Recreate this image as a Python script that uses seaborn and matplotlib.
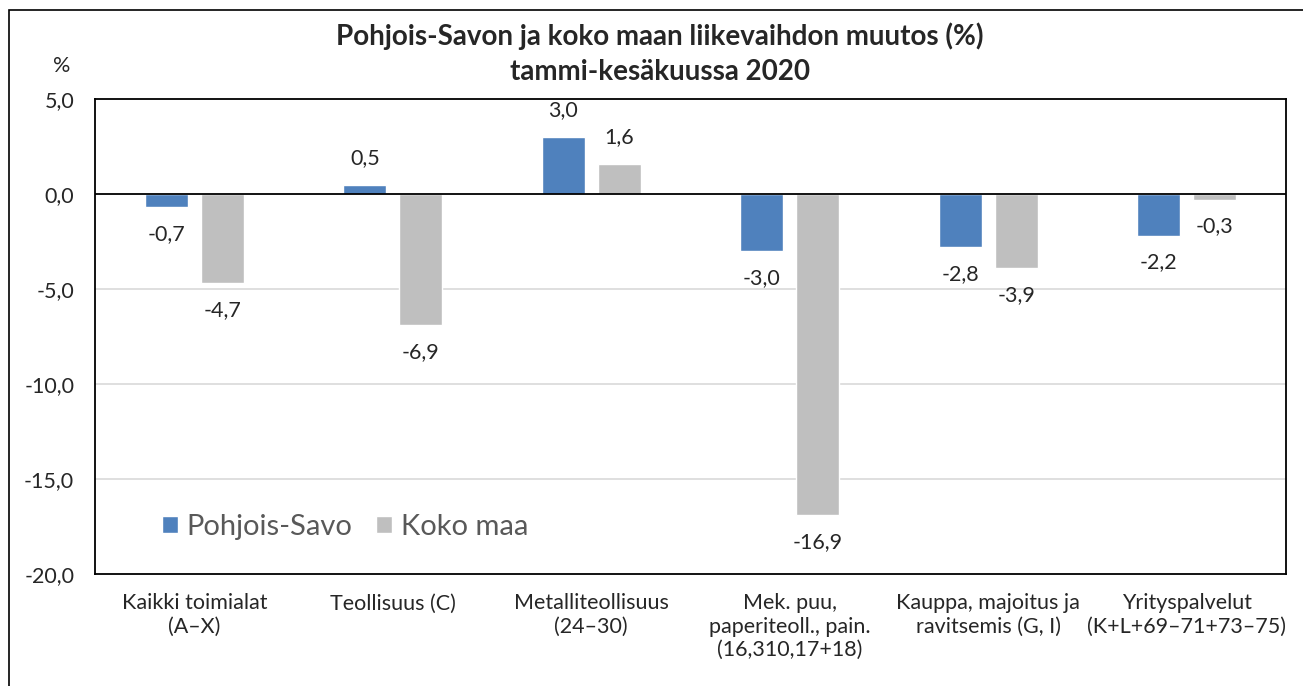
import seaborn as sns
import pandas as pd
import matplotlib.pyplot as plt
from matplotlib.patches import Rectangle

# data
categories = [
    "Kaikki toimialat\n(A–X)",
    "Teollisuus (C)",
    "Metalliteollisuus\n(24–30)",
    "Mek. puu,\npaperiteoll., pain.\n(16,310,17+18)",
    "Kauppa, majoitus ja\nravitsemis (G, I)",
    "Yrityspalvelut\n(K+L+69–71+73–75)",
]
series = ["Pohjois-Savo", "Koko maa"]
pohjois_savo = [-0.7, 0.5, 3.0, -3.0, -2.8, -2.2]
koko_maa = [-4.7, -6.9, 1.6, -16.9, -3.9, -0.3]
yticks = [5, 0, -5, -10, -15, -20]

colors = {"Pohjois-Savo": "#4F81BD", "Koko maa": "#BFBFBF"}

df = pd.DataFrame({
    "toimiala": categories * 2,
    "sarja": [series[0]] * len(categories) + [series[1]] * len(categories),
    "muutos": pohjois_savo + koko_maa,
})

sns.set_style("white")
plt.rcParams['font.family'] = ['Lato', 'DejaVu Sans']

fig = plt.figure(figsize=(13.03, 6.86), dpi=100)
ax = fig.add_axes([95/1303, 1-574/686, (1286-95)/1303, (574-99)/686])

sns.barplot(data=df, x="toimiala", y="muutos", hue="sarja", hue_order=series,
            palette=colors, width=0.564, gap=0.23, saturation=1,
            ax=ax, errorbar=None)

ax.set_ylim(-20, 5)
ax.set_xlim(-0.5, len(categories) - 0.5)
ax.set_yticks(yticks)
ax.set_yticklabels([f"{v:.1f}".replace(".", ",") for v in yticks], fontsize=15.5)
ax.tick_params(axis="y", length=0, pad=15)
ax.tick_params(axis="x", length=0, pad=14, labelsize=15.5)
ax.set_xlabel("")
ax.set_ylabel("")

for y in [-5, -10, -15]:
    ax.axhline(y, color="#D9D9D9", lw=1.2, zorder=0)
ax.axhline(0, color="black", lw=1.3, zorder=3)

for s in ax.spines.values():
    s.set_color("black")
    s.set_linewidth(1.3)

# value labels
for cont, vals in zip(ax.containers, [pohjois_savo, koko_maa]):
    ax.bar_label(cont, labels=[f"{v:.1f}".replace(".", ",") for v in vals],
                 padding=12, fontsize=15.5)

ax.legend(loc="center", bbox_to_anchor=(0.21, 0.099), ncol=2, frameon=False,
          fontsize=21, handlelength=0.55, handleheight=0.55, handletextpad=0.3,
          columnspacing=0.8, labelcolor="#595959")

fig.text(0.5065, 1-54/686, "Pohjois-Savon ja koko maan liikevaihdon muutos (%)\ntammi-kesäkuussa 2020",
         ha="center", va="center", fontsize=20, fontweight="bold", linespacing=1.42)
fig.text(62/1303, 1-66/686, "%", ha="center", va="center", fontsize=15.5)

# outer chart border
fig.patches.append(Rectangle((9/1303, -0.1), 1.1, 1.1 - 10/686, transform=fig.transFigure,
                             fill=False, edgecolor="black", lw=1.2))

fig.savefig("out.png", dpi=100)
